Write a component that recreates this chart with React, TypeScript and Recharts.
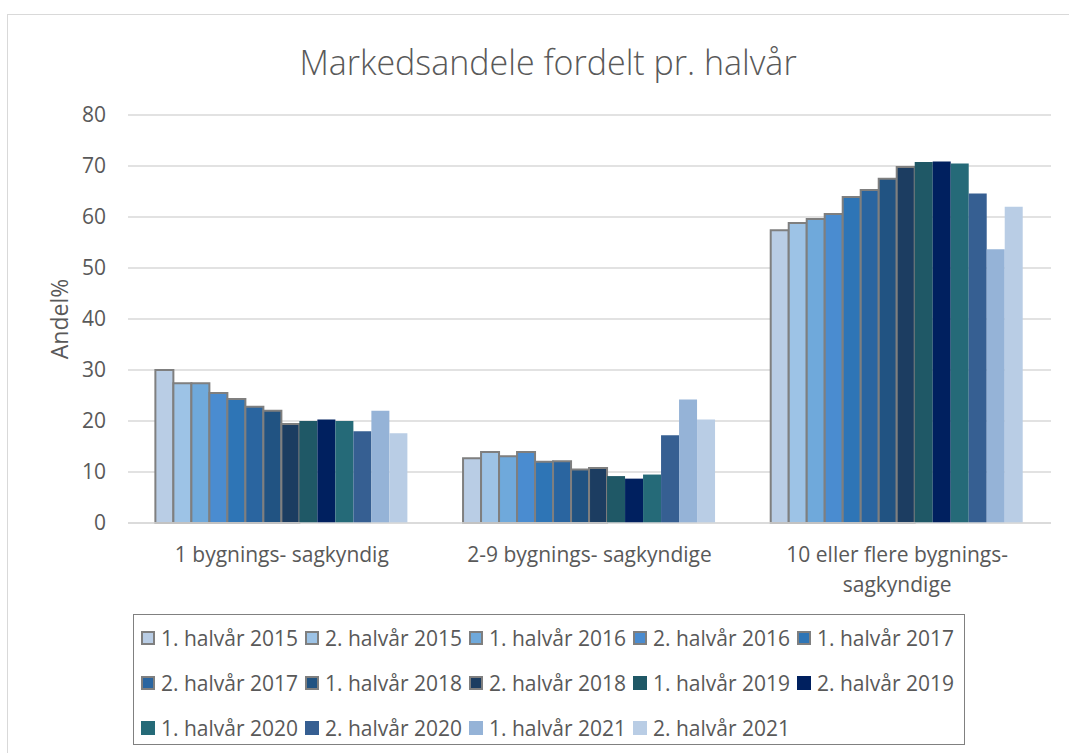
import React from "react";
import {
  BarChart,
  Bar,
  XAxis,
  YAxis,
  CartesianGrid,
  Legend,
} from "recharts";

// Categories on the x axis
const categories = [
  "1 bygnings- sagkyndig",
  "2-9 bygnings- sagkyndige",
  "10 eller flere bygnings- sagkyndige",
];

// One series per half year
const seriesNames = [
  "1. halvår 2015",
  "2. halvår 2015",
  "1. halvår 2016",
  "2. halvår 2016",
  "1. halvår 2017",
  "2. halvår 2017",
  "1. halvår 2018",
  "2. halvår 2018",
  "1. halvår 2019",
  "2. halvår 2019",
  "1. halvår 2020",
  "2. halvår 2020",
  "1. halvår 2021",
  "2. halvår 2021",
];

// Values per category, one entry per series
const oneExpert = [30.0, 27.4, 27.4, 25.5, 24.3, 22.8, 22.0, 19.4, 20.0, 20.3, 20.0, 18.0, 22.0, 17.6];
const twoToNine = [12.7, 13.9, 13.1, 13.9, 12.0, 12.1, 10.5, 10.8, 9.2, 8.7, 9.5, 17.2, 24.2, 20.3];
const tenOrMore = [57.4, 58.8, 59.6, 60.6, 63.9, 65.3, 67.5, 69.8, 70.8, 70.9, 70.5, 64.6, 53.7, 62.0];

const yTicks = [0, 10, 20, 30, 40, 50, 60, 70, 80];

const colors = [
  "#B9CDE5",
  "#9DC3E6",
  "#6FA9DB",
  "#4A8CD0",
  "#2E75B6",
  "#2A65A0",
  "#215382",
  "#1C3D61",
  "#1F5866",
  "#00205F",
  "#256A78",
  "#365F92",
  "#95B3D7",
  "#B9CDE5",
];

// first eight series are drawn with a grey outline
const outlined = seriesNames.map((_, i) => i < 8);

const values = [oneExpert, twoToNine, tenOrMore];
const data = categories.map((name, c) => {
  const row: { [key: string]: string | number } = { name };
  seriesNames.forEach((_, s) => {
    row["s" + s] = values[c][s];
  });
  return row;
});

const FONT = "'Open Sans', sans-serif";
const TEXT = "#595959";

// wrap a label into lines of at most maxChars characters
function wrapLabel(label: string, maxChars: number) {
  const lines: string[] = [];
  let cur = "";
  label.split(" ").forEach((w) => {
    const next = cur ? cur + " " + w : w;
    if (next.length > maxChars && cur) {
      lines.push(cur);
      cur = w;
    } else {
      cur = next;
    }
  });
  if (cur) lines.push(cur);
  return lines;
}

function CategoryTick(props: any) {
  const { x, y, payload } = props;
  const lines = wrapLabel(String(payload.value), 26);
  return (
    <text
      x={x}
      y={y + 31}
      textAnchor="middle"
      fontSize={21}
      fontFamily={FONT}
      fill={TEXT}
    >
      {lines.map((l, i) => (
        <tspan key={i} x={x} dy={i === 0 ? 0 : 30}>
          {l}
        </tspan>
      ))}
    </text>
  );
}

function AxisTitle(props: any) {
  const vb = props.viewBox || { x: 0, y: 0, width: 0, height: 0 };
  const cx = vb.x + 31;
  const cy = vb.y + vb.height / 2;
  return (
    <text
      x={cx}
      y={cy}
      transform={`rotate(-90 ${cx} ${cy})`}
      textAnchor="middle"
      dominantBaseline="central"
      fontSize={23}
      fontFamily={FONT}
      fill={TEXT}
    >
      Andel%
    </text>
  );
}

function LegendBox() {
  return (
    <div
      style={{
        boxSizing: "border-box",
        width: 832,
        height: 131,
        border: "1.5px solid #808080",
        padding: "0 0 0 7px",
        display: "flex",
        flexWrap: "wrap",
        alignContent: "flex-start",
        fontFamily: FONT,
        fontSize: 21,
        color: TEXT,
        background: "#fff",
      }}
    >
      {seriesNames.map((n, i) => (
        <div
          key={n}
          style={{
            width: 164,
            height: 45,
            display: "flex",
            alignItems: "center",
            whiteSpace: "nowrap",
          }}
        >
          <span
            style={{
              boxSizing: "border-box",
              display: "inline-block",
              flex: "none",
              width: 14,
              height: 14,
              background: colors[i],
              border: outlined[i] ? "2px solid #7f7f7f" : "none",
              marginRight: 6,
            }}
          />
          {n}
        </div>
      ))}
    </div>
  );
}

export default function App() {
  return (
    <div
      style={{
        position: "absolute",
        left: 0,
        top: 0,
        width: 1069,
        height: 753,
        overflow: "hidden",
        background: "#fff",
      }}
    >
      <div
        style={{
          position: "absolute",
          left: 7,
          top: 14,
          width: 1200,
          height: 900,
          border: "1.5px solid #d9d9d9",
        }}
      />
      <div
        style={{
          position: "absolute",
          left: 0,
          top: 38,
          width: 1096,
          textAlign: "center",
          fontFamily: FONT,
          fontWeight: 300,
          fontSize: 34,
          color: TEXT,
          lineHeight: "48px",
        }}
      >
        Markedsandele fordelt pr. halvår
      </div>
      <div style={{ position: "absolute", left: 0, top: 0 }}>
        <BarChart
          width={1069}
          height={753}
          data={data}
          margin={{ top: 115, right: 18, bottom: 160, left: 28 }}
          barCategoryGap="8.9%"
          barGap={0}
        >
          <CartesianGrid vertical={false} stroke="#d9d9d9" strokeWidth={1.5} />
          <XAxis
            dataKey="name"
            height={70}
            axisLine={{ stroke: "#d9d9d9", strokeWidth: 1.5 }}
            tickLine={false}
            tick={<CategoryTick />}
            interval={0}
          />
          <YAxis
            width={100}
            domain={[0, 80]}
            ticks={yTicks}
            axisLine={false}
            tickLine={false}
            tickMargin={16}
            tick={{ fontSize: 21, fontFamily: FONT, fill: TEXT }}
            label={<AxisTitle />}
          />
          <Legend
            layout="horizontal"
            verticalAlign="middle"
            align="center"
            wrapperStyle={{ left: 133, top: 614, width: 832, height: 131 }}
            content={() => <LegendBox />}
          />
          {seriesNames.map((n, i) => (
            <Bar
              key={n}
              dataKey={"s" + i}
              name={n}
              fill={colors[i]}
              stroke={outlined[i] ? "#7f7f7f" : "none"}
              strokeWidth={outlined[i] ? 2 : 0}
              isAnimationActive={false}
            />
          ))}
        </BarChart>
      </div>
    </div>
  );
}
